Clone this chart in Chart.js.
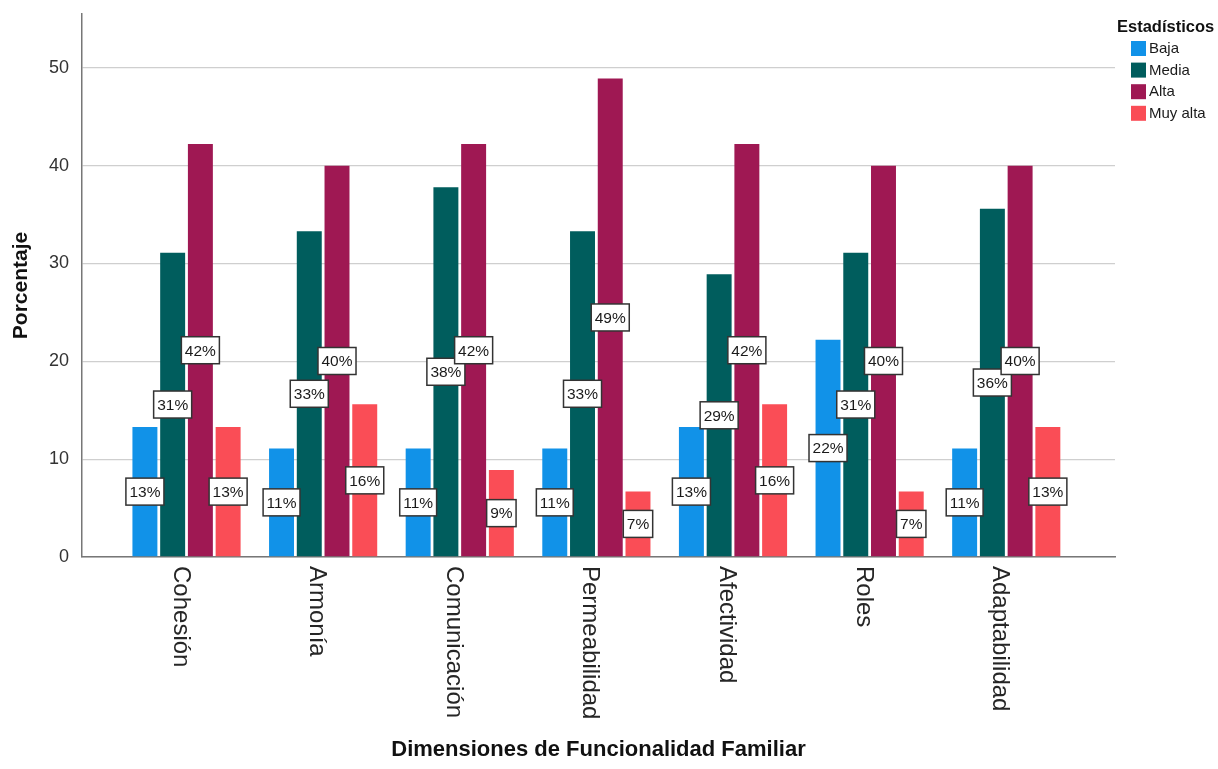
<!DOCTYPE html>
<html>
<head>
<meta charset="utf-8">
<script src="https://cdn.jsdelivr.net/npm/chart.js@4.4.1/dist/chart.umd.min.js"></script>
<style>
  html, body { margin: 0; padding: 0; background: #ffffff; }
  #wrap { width: 1218px; height: 769px; }
</style>
</head>
<body>
<div id="wrap"><canvas id="chart" width="1218" height="769"></canvas></div>
<script>
// Porcentaje por dimensión y nivel
const categories = ['Cohesión', 'Armonía', 'Comunicación', 'Permeabilidad', 'Afectividad', 'Roles', 'Adaptabilidad'];
const seriesNames = ['Baja', 'Media', 'Alta', 'Muy alta'];
const baja    = [13.3, 11.1, 11.1, 11.1, 13.3, 22.2, 11.1];
const media   = [31.1, 33.3, 37.8, 33.3, 28.9, 31.1, 35.6];
const alta    = [42.2, 40.0, 42.2, 48.9, 42.2, 40.0, 40.0];
const muyAlta = [13.3, 15.6, 8.9, 6.7, 15.6, 6.7, 13.3];
const yTickValues = [0, 10, 20, 30, 40, 50];

const seriesValues = [baja, media, alta, muyAlta];
const seriesColors = ['#1192e8', '#005d5d', '#9f1853', '#fa4d56'];
const FONT = "'Liberation Sans', Arial, sans-serif";

const datasets = seriesNames.map((name, s) => ({
  label: name,
  data: seriesValues[s].map((v, i) => ({ x: i, y: v })),
  backgroundColor: seriesColors[s],
  borderWidth: 0,
  barPercentage: 0.9,
  categoryPercentage: 0.812
}));

// Category names, written top-to-bottom under each group
const categoryLabels = {
  id: 'categoryLabels',
  afterDraw(chart) {
    const ctx = chart.ctx;
    const xs = chart.scales.x;
    const top = chart.chartArea.bottom + 9;
    ctx.save();
    ctx.font = '24px ' + FONT;
    ctx.fillStyle = '#262626';
    ctx.textAlign = 'left';
    ctx.textBaseline = 'alphabetic';
    categories.forEach((name, i) => {
      const cx = xs.getPixelForValue(i);
      ctx.save();
      ctx.translate(cx, top);
      ctx.rotate(Math.PI / 2);
      ctx.fillText(name, 0, 13);
      ctx.restore();
    });
    ctx.restore();
  }
};

// Boxed percentage labels at mid-height of each bar
const valueLabels = {
  id: 'valueLabels',
  afterDatasetsDraw(chart) {
    const ctx = chart.ctx;
    ctx.save();
    ctx.font = '15.5px ' + FONT;
    ctx.textAlign = 'center';
    ctx.textBaseline = 'middle';
    chart.data.datasets.forEach((ds, s) => {
      const meta = chart.getDatasetMeta(s);
      meta.data.forEach((bar, i) => {
        const v = seriesValues[s][i];
        const txt = Math.round(v) + '%';
        const w = ctx.measureText(txt).width + 7;
        const h = 27;
        const cx = bar.x;
        const cy = (bar.y + bar.base) / 2;
        ctx.fillStyle = '#ffffff';
        ctx.fillRect(cx - w / 2, cy - h / 2, w, h);
        ctx.lineWidth = 1.5;
        ctx.strokeStyle = '#333333';
        ctx.strokeRect(cx - w / 2, cy - h / 2, w, h);
        ctx.fillStyle = '#1a1a1a';
        ctx.fillText(txt, cx, cy + 1);
      });
    });
    ctx.restore();
  }
};

// Legend block at the upper right
const sideLegend = {
  id: 'sideLegend',
  afterDraw(chart) {
    const ctx = chart.ctx;
    const left = chart.chartArea.right + 2;
    ctx.save();
    ctx.textBaseline = 'middle';
    ctx.textAlign = 'left';
    ctx.font = 'bold 16.5px ' + FONT;
    ctx.fillStyle = '#111111';
    ctx.fillText('Estadísticos', left, 27);
    ctx.font = '15px ' + FONT;
    seriesNames.forEach((name, s) => {
      const y = 41 + s * 21.6;
      ctx.fillStyle = seriesColors[s];
      ctx.fillRect(left + 14, y, 15, 15);
      ctx.fillStyle = '#1a1a1a';
      ctx.fillText(name, left + 32, y + 8);
    });
    ctx.restore();
  }
};

new Chart(document.getElementById('chart'), {
  type: 'bar',
  data: { datasets },
  plugins: [valueLabels, categoryLabels, sideLegend],
  options: {
    responsive: false,
    animation: false,
    devicePixelRatio: 1,
    layout: { padding: { top: 14, left: 0, right: 103, bottom: 0 } },
    plugins: {
      legend: { display: false },
      tooltip: { enabled: false }
    },
    scales: {
      x: {
        type: 'linear',
        offset: false,
        min: -0.765,
        max: 6.796,
        grid: { display: false },
        border: { display: true, color: '#777777', width: 1.5 },
        ticks: { display: false, stepSize: 1, includeBounds: false },
        title: {
          display: true,
          text: 'Dimensiones de Funcionalidad Familiar',
          font: { family: FONT, size: 22, weight: 'bold' },
          color: '#111111',
          padding: { top: 4, bottom: 6 }
        },
        afterFit(scale) {
          scale.height = 212;
          scale.paddingLeft = 0;
          scale.paddingRight = 0;
        }
      },
      y: {
        min: 0,
        max: 55.5,
        grid: { color: '#cfcfcf', lineWidth: 1.3, drawTicks: false },
        border: { display: true, color: '#777777', width: 1.5 },
        ticks: {
          stepSize: 10,
          includeBounds: false,
          padding: 13,
          color: '#333333',
          font: { family: FONT, size: 18 },
          callback: (v) => (yTickValues.includes(v) ? v : '')
        },
        title: {
          display: true,
          text: 'Porcentaje',
          font: { family: FONT, size: 21, weight: 'bold' },
          color: '#111111',
          padding: { top: 9, bottom: 4 }
        },
        afterFit(scale) {
          scale.width = 82;
          scale.paddingTop = 0;
          scale.paddingBottom = 0;
        }
      }
    }
  }
});
</script>
</body>
</html>
